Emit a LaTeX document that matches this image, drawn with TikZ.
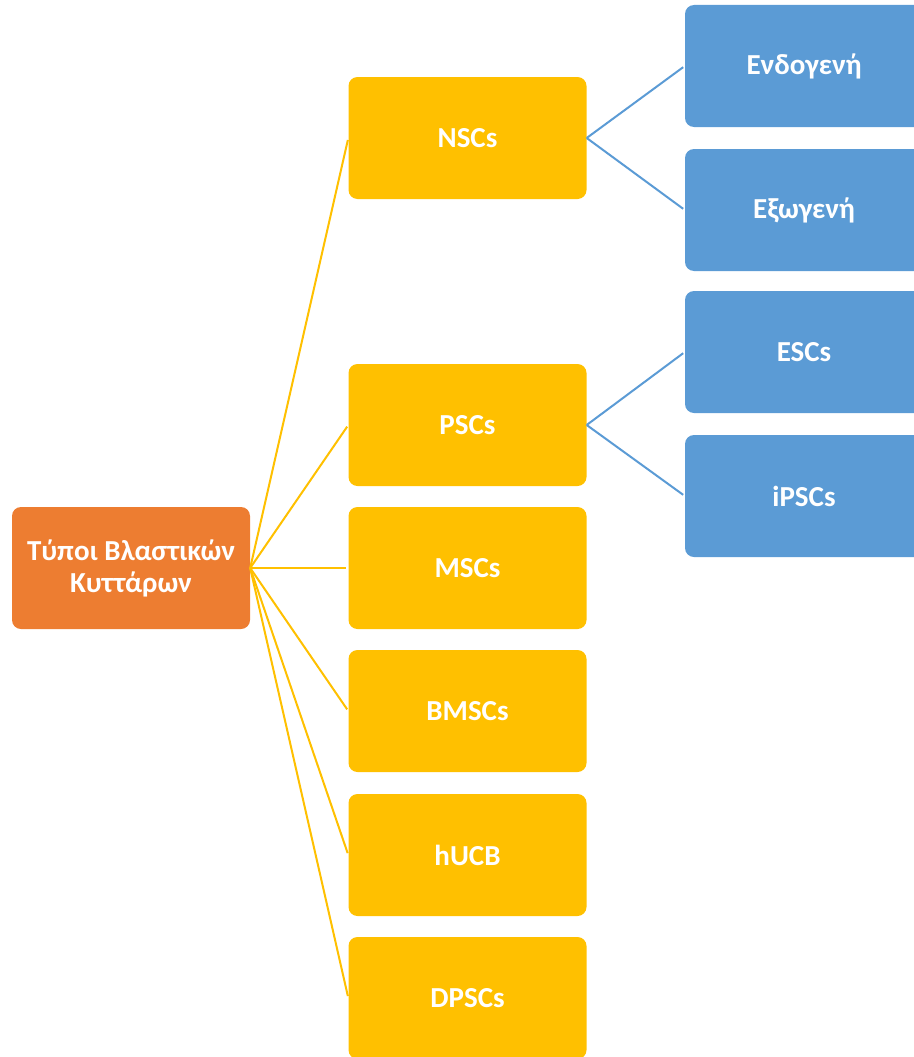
\documentclass[tikz,border=0pt]{standalone}
\usepackage{fontspec}
\setmainfont{Carlito}
\usetikzlibrary{positioning}
\definecolor{rootorange}{HTML}{ED7D31}
\definecolor{kindyellow}{HTML}{FFC000}
\definecolor{subblue}{HTML}{5B9BD5}

\begin{document}
\begin{tikzpicture}[x=1pt,y=-1pt,
  box/.style={rounded corners=9pt, minimum width=238pt, minimum height=122pt,
    inner sep=0pt, text=white, align=center, font=\fontsize{29}{32}\selectfont\bfseries},
  rootbox/.style={box, fill=rootorange},
  kindbox/.style={box, fill=kindyellow},
  subbox/.style={box, fill=subblue},
  kindline/.style={draw=kindyellow, line width=2pt, shorten >=2pt},
  subline/.style={draw=subblue, line width=2pt, shorten >=2pt}]
  \useasboundingbox (0,0) rectangle (913,1057);

  \node [rootbox] (root) at (131,568) {Τύποι Βλαστικών\\Κυττάρων};

  \node [kindbox] (nsc) at (467.5,138) {NSCs};
  \node [kindbox] (psc) at (467.5,425) {PSCs};
  \node [kindbox] (msc) at (467.5,568) {MSCs};
  \node [kindbox] (bmsc) at (467.5,711) {BMSCs};
  \node [kindbox] (hucb) at (467.5,855) {hUCB};
  \node [kindbox] (dpsc) at (467.5,998) {DPSCs};

  \node [subbox] (endo) at (804,66) {Ενδογενή};
  \node [subbox] (exo) at (804,210) {Εξωγενή};
  \node [subbox] (esc) at (804,352) {ESCs};
  \node [subbox] (ipsc) at (804,496) {iPSCs};

  \foreach \k in {nsc,psc,msc,bmsc,hucb,dpsc}
    \draw [kindline] (root.east) -- (\k.west);

  \draw [subline] (nsc.east) -- (endo.west);
  \draw [subline] (nsc.east) -- (exo.west);
  \draw [subline] (psc.east) -- (esc.west);
  \draw [subline] (psc.east) -- (ipsc.west);
\end{tikzpicture}
\end{document}
